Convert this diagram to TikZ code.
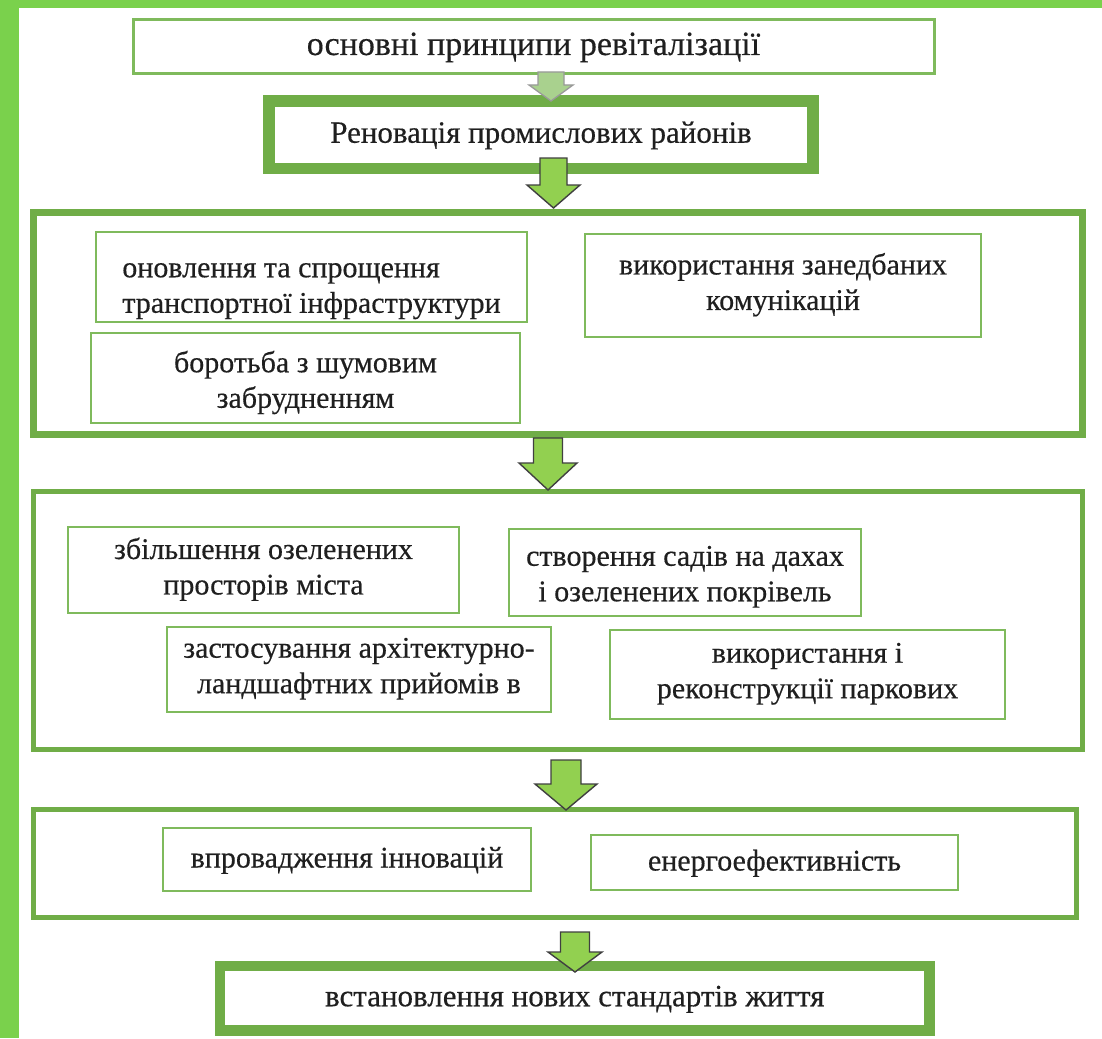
\documentclass[tikz,border=0pt]{standalone}
\usepackage{fontspec}
\setmainfont{Liberation Serif}
\newfontfamily\boxfont[FakeBold=0.4]{Liberation Serif}
\definecolor{framegreen}{HTML}{7AD14C}
\definecolor{boxgreen}{HTML}{70AD47}
\definecolor{lightbox}{HTML}{7FBA5C}
\definecolor{arrowfill}{HTML}{92D050}
\definecolor{arrowpale}{HTML}{A9D18E}
\newcommand{\txtstrut}{\rule[-8pt]{0pt}{32pt}}
\newcommand{\blockarr}[7]{% cx, top, headstart, tip, shafthalf, headhalf, style
  \draw[#7] (#1-#5,#2) -- (#1+#5,#2) -- (#1+#5,#3) -- (#1+#6,#3) -- (#1,#4)
    -- (#1-#6,#3) -- (#1-#5,#3) -- cycle;}
\tikzset{
  txt/.style={font=\boxfont\fontsize{30}{35.5}\selectfont, text=black!88, align=center, inner sep=0pt,
    execute at begin node=\txtstrut, execute at end node=\txtstrut},
  bigtxt/.style={font=\boxfont\fontsize{34}{38}\selectfont},
  subbox/.style={txt, draw=lightbox, line width=2},
  topbox/.style={txt, draw=lightbox, line width=3},
  thickbox/.style={txt, draw=boxgreen, line width=11.5},
  groupbox/.style={draw=boxgreen, line width=#1, inner sep=0pt},
  arrpale/.style={fill=arrowpale, draw=black!40, line width=1.3, line join=miter},
  arrmain/.style={fill=arrowfill, draw=black!75, line width=1.4, line join=miter},
}
\begin{document}
\begin{tikzpicture}[x=1pt,y=-1pt]
\useasboundingbox (0,0) rectangle (1102,1038);
\fill[white] (0,0) rectangle (1102,1038);
% outer frame bars
\fill[framegreen] (0,0) rectangle (19,1038);
\fill[framegreen] (0,0) rectangle (1102,8);

% top boxes
\node[topbox, bigtxt, minimum width=801, minimum height=54] (p) at (533.5,47) {основні принципи ревіталізації};
\node[thickbox, font=\boxfont\fontsize{31}{35.5}\selectfont, minimum width=544, minimum height=67.5] (r) at (541,134.75) {Реновація промислових районів};

% group 1
\node[groupbox=7, minimum width=1049, minimum height=222] (g1) at (558,323) {};
\node[subbox, align=left, minimum width=431, minimum height=90] (a1) at (311.5,277) {\rule{0pt}{44pt}оновлення та спрощення\\транспортної інфраструктури};
\node[subbox, minimum width=429, minimum height=90] (a2) at (305.5,378) {\rule{0pt}{32pt}боротьба з шумовим\\забрудненням};
\node[subbox, minimum width=396, minimum height=103] (a3) at (783,285.5) {використання занедбаних\\комунікацій};

% group 2
\node[groupbox=5, minimum width=1049, minimum height=258] (g2) at (557.5,620) {};
\node[subbox, minimum width=391, minimum height=86] (b1) at (263.5,570) {збільшення озеленених\\просторів міста};
\node[subbox, minimum width=352, minimum height=87] (b2) at (685,572.5) {\rule{0pt}{30pt}створення садів на дахах\\і озеленених покрівель};
\node[subbox, minimum width=384, minimum height=85] (b3) at (359,669.5) {застосування архітектурно-\\ландшафтних прийомів в};
\node[subbox, minimum width=395, minimum height=89] (b4) at (807.5,674.5) {використання і\\реконструкції паркових};

% group 3
\node[groupbox=5, minimum width=1043, minimum height=107.5] (g3) at (555,863.25) {};
\node[subbox, minimum width=368, minimum height=63] (c1) at (347,859.5) {впровадження інновацій};
\node[subbox, minimum width=367, minimum height=55] (c2) at (774.5,862.5) {енергоефективність};

% final box
\node[thickbox, font=\boxfont\fontsize{31}{35.5}\selectfont, line width=10.5, minimum width=709.5, minimum height=64.5] (f) at (574.75,998.25) {встановлення нових стандартів життя};

% block arrows
\blockarr{551}{72}{85}{101}{13}{22}{arrpale}
\blockarr{553.5}{158}{185}{208}{13.5}{26.5}{arrmain}
\blockarr{548}{438}{463}{490}{14.5}{29}{arrmain}
\blockarr{566}{760}{784}{810}{15}{31}{arrmain}
\blockarr{575}{932}{952}{972}{14.5}{27}{arrmain}
\end{tikzpicture}
\end{document}
